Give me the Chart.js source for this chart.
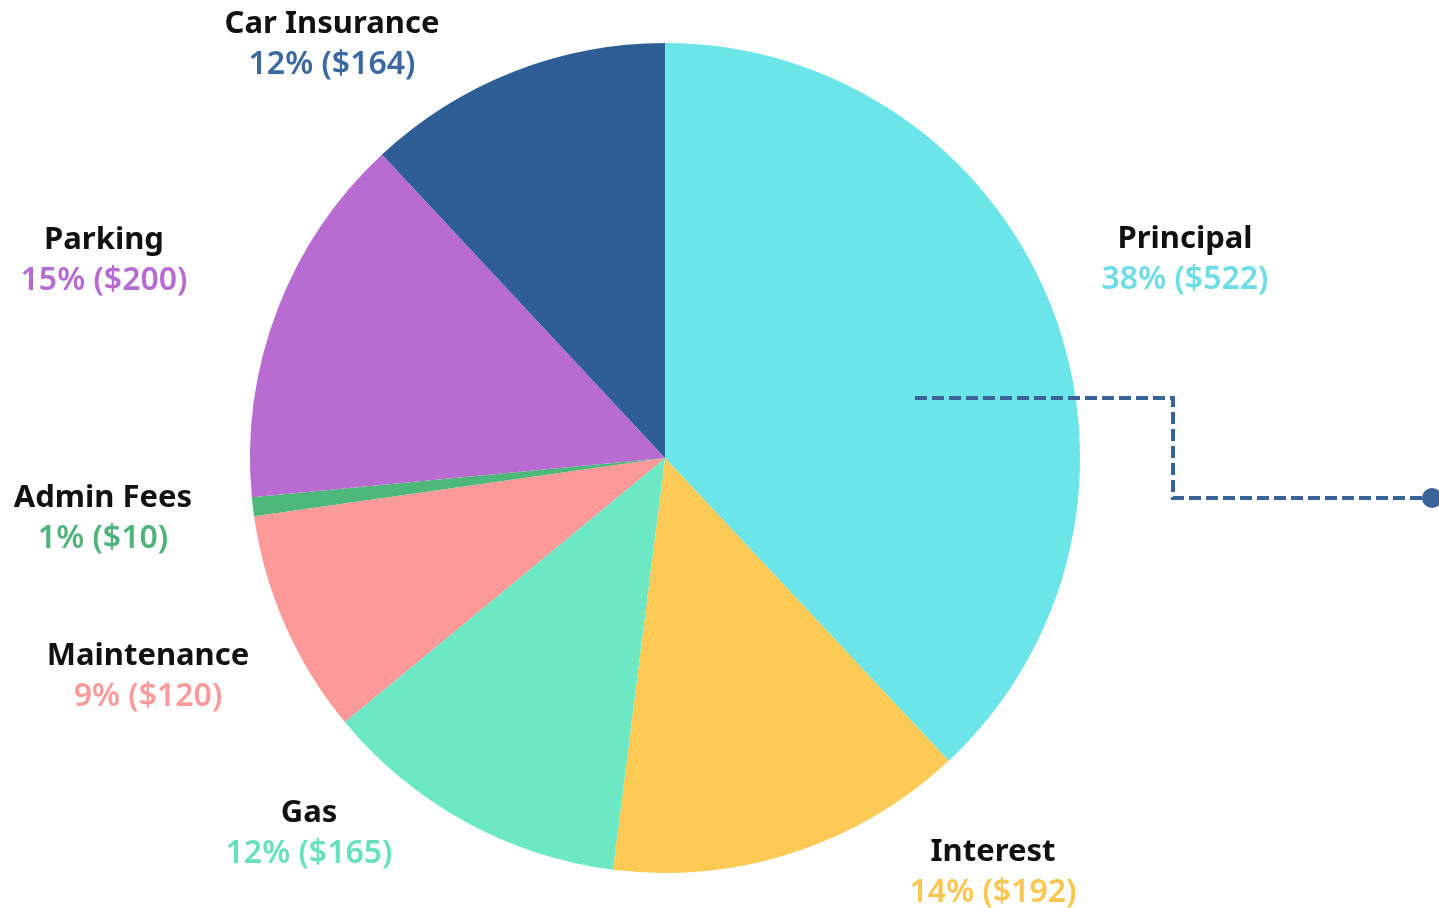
<!DOCTYPE html>
<html>
<head>
<meta charset="utf-8">
<title>Monthly car costs</title>
<script src="https://cdn.jsdelivr.net/npm/chart.js@4"></script>
<style>
  html, body { margin: 0; padding: 0; background: #ffffff; }
  #wrap { position: relative; width: 1439px; height: 908px; }
</style>
</head>
<body>
<div id="wrap"><canvas id="costChart"></canvas></div>
<script>
// categories, clockwise from 12 o'clock
const categories = ['Principal', 'Interest', 'Gas', 'Maintenance', 'Admin Fees', 'Parking', 'Car Insurance'];
const amounts    = [522, 192, 165, 120, 10, 200, 164];
const sliceColors = ['#6ce5e8', '#fdcb55', '#6ce8c4', '#fe999a', '#4db87a', '#b86bd1', '#2e5e95'];
const valueColors = ['#6cdde4', '#fbc650', '#68e0be', '#f99a9b', '#52b27c', '#b56bcf', '#3a68a0'];

// label anchor offsets from the pie centre (px)
const LABEL_OFFSETS = [
  [520, -200], [328, 413], [-356, 374], [-517, 217],
  [-562, 59], [-561, -199], [-333, -415],
];

const total = amounts.reduce((a, b) => a + b, 0);

const labelPlugin = {
  id: 'sliceLabels',
  afterDraw(chart) {
    const ctx = chart.ctx;
    const arc = chart.getDatasetMeta(0).data[0];
    const cx = arc.x, cy = arc.y;

    // dashed callout out of the principal slice
    ctx.save();
    ctx.strokeStyle = '#3a6399';
    ctx.lineWidth = 4;
    ctx.setLineDash([12, 5]);
    ctx.beginPath();
    ctx.moveTo(cx + 250, cy - 60);
    ctx.lineTo(cx + 508, cy - 60);
    ctx.lineTo(cx + 508, cy + 40);
    ctx.lineTo(cx + 757, cy + 40);
    ctx.stroke();
    ctx.setLineDash([]);
    ctx.fillStyle = '#3a6399';
    ctx.beginPath();
    ctx.arc(cx + 767, cy + 40, 10, 0, Math.PI * 2);
    ctx.fill();

    ctx.textAlign = 'center';
    ctx.textBaseline = 'middle';
    categories.forEach((name, i) => {
      const [dx, dy] = LABEL_OFFSETS[i];
      const pct = Math.round(amounts[i] / total * 100);
      ctx.fillStyle = '#111111';
      ctx.font = '700 31px "Noto Sans"';
      ctx.fillText(name, cx + dx, cy + dy - 19);
      ctx.fillStyle = valueColors[i];
      ctx.font = '600 32px "Noto Sans"';
      ctx.fillText(`${pct}% ($${amounts[i]})`, cx + dx, cy + dy + 22);
    });
    ctx.restore();
  }
};

new Chart(document.getElementById('costChart'), {
  type: 'pie',
  data: {
    labels: categories,
    datasets: [{
      data: amounts,
      backgroundColor: sliceColors,
      borderWidth: 0,
    }]
  },
  options: {
    responsive: true,
    maintainAspectRatio: false,
    animation: false,
    layout: { padding: { left: 250, right: 359, top: 43, bottom: 35 } },
    plugins: {
      legend: { display: false },
      tooltip: { enabled: false },
    },
  },
  plugins: [labelPlugin],
});
</script>
</body>
</html>
